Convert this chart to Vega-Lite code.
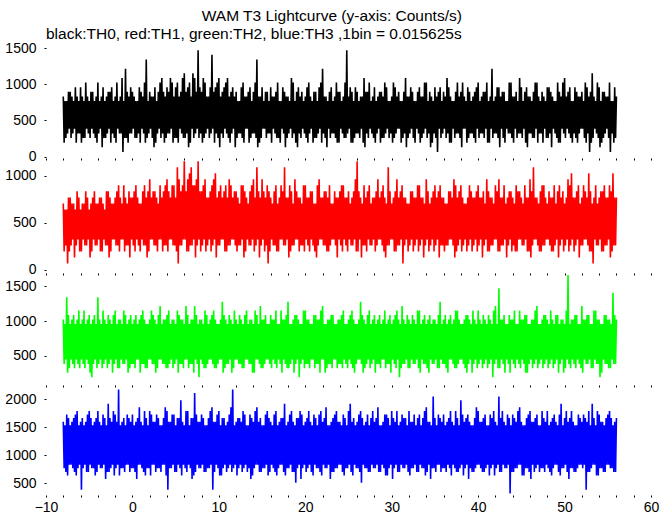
{
"$schema": "https://vega.github.io/schema/vega-lite/v6.json",
"background": "white",
"padding": {"left": 4, "top": 9, "right": 10, "bottom": 2},
"title": {"text": "WAM T3 Lightcurve (y-axis: Counts/s)", "anchor": "middle", "fontSize": 15.5, "font": "Liberation Sans", "fontWeight": "normal", "color": "black", "offset": 2.5},
"config": {
  "view": {"stroke": null},
  "axis": {"labelFont": "Liberation Sans", "labelFontSize": 14, "labelColor": "black", "domain": false, "grid": false, "tickColor": "black", "tickSize": 2, "title": null}
},
"spacing": 0,
"bounds": "flush",
"data": {"values": [
{"t":-8,"a":832,"b":704,"c":1024,"d":1600},{"t":-7.9,"a":192,"b":192,"c":384,"d":768},{"t":-7.8,"a":768,"b":640,"c":960,"d":1536},{"t":-7.7,"a":256,"b":256,"c":448,"d":704},
{"t":-7.6,"a":768,"b":640,"c":1344,"d":1728},{"t":-7.5,"a":320,"b":64,"c":256,"d":640},{"t":-7.4,"a":896,"b":768,"c":1088,"d":1664},{"t":-7.3,"a":384,"b":192,"c":320,"d":832},
{"t":-7.2,"a":896,"b":768,"c":960,"d":1536},{"t":-7.1,"a":256,"b":256,"c":448,"d":832},{"t":-7,"a":832,"b":704,"c":1024,"d":1600},{"t":-6.9,"a":320,"b":320,"c":384,"d":768},
{"t":-6.8,"a":768,"b":704,"c":1088,"d":1664},{"t":-6.7,"a":384,"b":128,"c":320,"d":704},{"t":-6.6,"a":960,"b":640,"c":960,"d":1728},{"t":-6.5,"a":192,"b":256,"c":448,"d":640},
{"t":-6.4,"a":832,"b":832,"c":1024,"d":1792},{"t":-6.3,"a":320,"b":320,"c":384,"d":768},{"t":-6.2,"a":768,"b":768,"c":1152,"d":1536},{"t":-6.1,"a":320,"b":192,"c":320,"d":832},
{"t":-6,"a":960,"b":640,"c":960,"d":1600},{"t":-5.9,"a":192,"b":192,"c":448,"d":384},{"t":-5.8,"a":832,"b":704,"c":1024,"d":1664},{"t":-5.7,"a":256,"b":320,"c":384,"d":768},
{"t":-5.6,"a":768,"b":704,"c":1152,"d":1536},{"t":-5.5,"a":256,"b":256,"c":320,"d":832},{"t":-5.4,"a":1024,"b":832,"c":960,"d":1600},{"t":-5.3,"a":384,"b":256,"c":448,"d":704},
{"t":-5.2,"a":832,"b":768,"c":1024,"d":1728},{"t":-5.1,"a":320,"b":320,"c":384,"d":704},{"t":-5,"a":768,"b":640,"c":1088,"d":1792},{"t":-4.9,"a":256,"b":128,"c":256,"d":832},
{"t":-4.8,"a":896,"b":704,"c":960,"d":1664},{"t":-4.7,"a":384,"b":192,"c":192,"d":768},{"t":-4.6,"a":896,"b":768,"c":1024,"d":1536},{"t":-4.5,"a":320,"b":320,"c":384,"d":768},
{"t":-4.4,"a":768,"b":832,"c":1088,"d":1600},{"t":-4.3,"a":256,"b":256,"c":448,"d":640},{"t":-4.2,"a":832,"b":704,"c":960,"d":1664},{"t":-4.1,"a":192,"b":256,"c":320,"d":704},
{"t":-4,"a":1024,"b":704,"c":1344,"d":1792},{"t":-3.9,"a":320,"b":320,"c":384,"d":832},{"t":-3.8,"a":768,"b":768,"c":1024,"d":1600},{"t":-3.7,"a":384,"b":192,"c":448,"d":768},
{"t":-3.6,"a":832,"b":768,"c":960,"d":1536},{"t":-3.5,"a":128,"b":192,"c":320,"d":768},{"t":-3.4,"a":960,"b":704,"c":1152,"d":1728},{"t":-3.3,"a":256,"b":320,"c":384,"d":832},
{"t":-3.2,"a":768,"b":640,"c":1024,"d":1664},{"t":-3.1,"a":256,"b":256,"c":448,"d":576},{"t":-3,"a":832,"b":832,"c":960,"d":1536},{"t":-2.9,"a":320,"b":256,"c":320,"d":704},
{"t":-2.8,"a":896,"b":832,"c":1088,"d":1920},{"t":-2.7,"a":384,"b":128,"c":384,"d":704},{"t":-2.6,"a":896,"b":768,"c":1024,"d":1664},{"t":-2.5,"a":192,"b":192,"c":448,"d":768},
{"t":-2.4,"a":960,"b":704,"c":960,"d":1600},{"t":-2.3,"a":320,"b":320,"c":256,"d":832},{"t":-2.2,"a":768,"b":704,"c":1088,"d":1792},{"t":-2.1,"a":256,"b":320,"c":384,"d":640},
{"t":-2,"a":832,"b":768,"c":1152,"d":1728},{"t":-1.9,"a":192,"b":256,"c":448,"d":768},{"t":-1.8,"a":1024,"b":832,"c":960,"d":1600},{"t":-1.7,"a":384,"b":256,"c":320,"d":832},
{"t":-1.6,"a":768,"b":896,"c":1024,"d":2176},{"t":-1.5,"a":320,"b":192,"c":320,"d":640},{"t":-1.4,"a":832,"b":768,"c":1024,"d":1536},{"t":-1.3,"a":320,"b":320,"c":448,"d":768},
{"t":-1.2,"a":1088,"b":704,"c":960,"d":1600},{"t":-1.1,"a":64,"b":320,"c":384,"d":768},{"t":-1,"a":768,"b":896,"c":1152,"d":1664},{"t":-0.9,"a":256,"b":192,"c":384,"d":704},
{"t":-0.8,"a":1216,"b":768,"c":1088,"d":1536},{"t":-0.7,"a":256,"b":256,"c":448,"d":832},{"t":-0.6,"a":896,"b":704,"c":960,"d":1728},{"t":-0.5,"a":192,"b":256,"c":256,"d":832},
{"t":-0.4,"a":832,"b":832,"c":1024,"d":1664},{"t":-0.3,"a":320,"b":128,"c":320,"d":704},{"t":-0.2,"a":960,"b":768,"c":1088,"d":1600},{"t":-0.1,"a":320,"b":320,"c":384,"d":768},
{"t":0,"a":896,"b":768,"c":960,"d":1728},{"t":0.1,"a":384,"b":256,"c":384,"d":768},{"t":0.2,"a":832,"b":832,"c":1024,"d":1536},{"t":0.3,"a":256,"b":192,"c":320,"d":704},
{"t":0.4,"a":768,"b":896,"c":1088,"d":1600},{"t":0.5,"a":256,"b":320,"c":448,"d":576},{"t":0.6,"a":768,"b":768,"c":960,"d":1664},{"t":0.7,"a":320,"b":256,"c":448,"d":832},
{"t":0.8,"a":960,"b":704,"c":1024,"d":1856},{"t":0.9,"a":192,"b":192,"c":256,"d":832},{"t":1,"a":896,"b":704,"c":1088,"d":1600},{"t":1.1,"a":384,"b":320,"c":384,"d":768},
{"t":1.2,"a":832,"b":832,"c":1152,"d":1536},{"t":1.3,"a":320,"b":256,"c":384,"d":704},{"t":1.4,"a":1024,"b":896,"c":1024,"d":1792},{"t":1.5,"a":192,"b":256,"c":320,"d":640},
{"t":1.6,"a":1344,"b":768,"c":960,"d":1664},{"t":1.7,"a":256,"b":128,"c":320,"d":768},{"t":1.8,"a":768,"b":832,"c":960,"d":1536},{"t":1.9,"a":320,"b":192,"c":448,"d":768},
{"t":2,"a":896,"b":960,"c":1024,"d":1792},{"t":2.1,"a":384,"b":320,"c":448,"d":640},{"t":2.2,"a":832,"b":768,"c":1152,"d":1728},{"t":2.3,"a":256,"b":320,"c":384,"d":832},
{"t":2.4,"a":832,"b":832,"c":1088,"d":1600},{"t":2.5,"a":128,"b":256,"c":384,"d":832},{"t":2.6,"a":960,"b":832,"c":1024,"d":1600},{"t":2.7,"a":192,"b":256,"c":256,"d":704},
{"t":2.8,"a":768,"b":768,"c":960,"d":1728},{"t":2.9,"a":320,"b":192,"c":320,"d":768},{"t":3,"a":896,"b":704,"c":1088,"d":1664},{"t":3.1,"a":384,"b":320,"c":448,"d":768},
{"t":3.2,"a":1024,"b":896,"c":1216,"d":1536},{"t":3.3,"a":256,"b":320,"c":448,"d":704},{"t":3.4,"a":1088,"b":768,"c":960,"d":1536},{"t":3.5,"a":320,"b":192,"c":384,"d":832},
{"t":3.6,"a":896,"b":832,"c":1024,"d":1664},{"t":3.7,"a":192,"b":256,"c":384,"d":832},{"t":3.8,"a":832,"b":896,"c":1024,"d":1856},{"t":3.9,"a":256,"b":256,"c":320,"d":640},
{"t":4,"a":960,"b":960,"c":1088,"d":1792},{"t":4.1,"a":320,"b":192,"c":320,"d":384},{"t":4.2,"a":896,"b":832,"c":1152,"d":1600},{"t":4.3,"a":320,"b":320,"c":384,"d":768},
{"t":4.4,"a":1088,"b":768,"c":960,"d":1600},{"t":4.5,"a":384,"b":320,"c":448,"d":768},{"t":4.6,"a":1024,"b":896,"c":1024,"d":1728},{"t":4.7,"a":192,"b":256,"c":320,"d":832},
{"t":4.8,"a":832,"b":896,"c":1024,"d":1728},{"t":4.9,"a":256,"b":256,"c":384,"d":704},{"t":5,"a":960,"b":768,"c":960,"d":1536},{"t":5.1,"a":256,"b":192,"c":448,"d":704},
{"t":5.2,"a":1024,"b":1088,"c":1152,"d":1664},{"t":5.3,"a":192,"b":64,"c":256,"d":832},{"t":5.4,"a":832,"b":960,"c":1088,"d":1664},{"t":5.5,"a":384,"b":256,"c":384,"d":768},
{"t":5.6,"a":896,"b":832,"c":1024,"d":1984},{"t":5.7,"a":320,"b":256,"c":384,"d":640},{"t":5.8,"a":1088,"b":896,"c":1024,"d":1600},{"t":5.9,"a":256,"b":320,"c":320,"d":832},
{"t":6,"a":1152,"b":1152,"c":960,"d":1536},{"t":6.1,"a":256,"b":320,"c":448,"d":768},{"t":6.2,"a":896,"b":832,"c":1216,"d":1792},{"t":6.3,"a":320,"b":192,"c":448,"d":704},
{"t":6.4,"a":960,"b":960,"c":1088,"d":1792},{"t":6.5,"a":128,"b":192,"c":320,"d":832},{"t":6.6,"a":1024,"b":1024,"c":960,"d":1536},{"t":6.7,"a":192,"b":256,"c":384,"d":768},
{"t":6.8,"a":832,"b":1088,"c":1024,"d":1664},{"t":6.9,"a":384,"b":256,"c":384,"d":576},{"t":7,"a":1152,"b":896,"c":1024,"d":1664},{"t":7.1,"a":256,"b":320,"c":256,"d":640},
{"t":7.2,"a":1088,"b":896,"c":1216,"d":2112},{"t":7.3,"a":320,"b":128,"c":448,"d":704},{"t":7.4,"a":896,"b":960,"c":1088,"d":1728},{"t":7.5,"a":384,"b":256,"c":384,"d":832},
{"t":7.6,"a":1472,"b":1152,"c":960,"d":1600},{"t":7.7,"a":256,"b":320,"c":192,"d":768},{"t":7.8,"a":960,"b":832,"c":1024,"d":1600},{"t":7.9,"a":320,"b":192,"c":448,"d":768},
{"t":8,"a":896,"b":832,"c":1024,"d":1728},{"t":8.1,"a":192,"b":256,"c":384,"d":832},{"t":8.2,"a":1088,"b":896,"c":960,"d":1664},{"t":8.3,"a":256,"b":320,"c":320,"d":704},
{"t":8.4,"a":1024,"b":960,"c":1152,"d":1536},{"t":8.5,"a":320,"b":192,"c":320,"d":704},{"t":8.6,"a":832,"b":768,"c":1088,"d":1536},{"t":8.7,"a":384,"b":256,"c":384,"d":768},
{"t":8.8,"a":832,"b":768,"c":960,"d":1664},{"t":8.9,"a":256,"b":320,"c":448,"d":768},{"t":9,"a":960,"b":832,"c":1024,"d":1792},{"t":9.1,"a":320,"b":192,"c":448,"d":832},
{"t":9.2,"a":1408,"b":896,"c":1088,"d":1856},{"t":9.3,"a":384,"b":256,"c":384,"d":384},{"t":9.4,"a":896,"b":960,"c":1152,"d":1600},{"t":9.5,"a":192,"b":320,"c":320,"d":704},
{"t":9.6,"a":960,"b":1024,"c":1024,"d":1600},{"t":9.7,"a":320,"b":128,"c":320,"d":832},{"t":9.8,"a":1024,"b":768,"c":960,"d":1728},{"t":9.9,"a":256,"b":256,"c":384,"d":768},
{"t":10,"a":1088,"b":832,"c":960,"d":1792},{"t":10.1,"a":128,"b":256,"c":448,"d":640},{"t":10.2,"a":832,"b":896,"c":1024,"d":1536},{"t":10.3,"a":320,"b":320,"c":448,"d":640},
{"t":10.4,"a":896,"b":768,"c":1280,"d":1664},{"t":10.5,"a":256,"b":320,"c":256,"d":768},{"t":10.6,"a":960,"b":832,"c":1088,"d":1664},{"t":10.7,"a":384,"b":192,"c":320,"d":832},
{"t":10.8,"a":1024,"b":896,"c":1024,"d":1536},{"t":10.9,"a":320,"b":192,"c":384,"d":704},{"t":11,"a":1088,"b":768,"c":960,"d":1600},{"t":11.1,"a":256,"b":256,"c":384,"d":768},
{"t":11.2,"a":832,"b":960,"c":1088,"d":1728},{"t":11.3,"a":192,"b":256,"c":448,"d":832},{"t":11.4,"a":896,"b":896,"c":1024,"d":1856},{"t":11.5,"a":320,"b":320,"c":256,"d":704},
{"t":11.6,"a":960,"b":768,"c":960,"d":2176},{"t":11.7,"a":384,"b":320,"c":320,"d":768},{"t":11.8,"a":832,"b":832,"c":1152,"d":1536},{"t":11.9,"a":128,"b":256,"c":448,"d":832},
{"t":12,"a":896,"b":832,"c":1024,"d":1600},{"t":12.1,"a":256,"b":192,"c":448,"d":640},{"t":12.2,"a":768,"b":768,"c":960,"d":1664},{"t":12.3,"a":320,"b":256,"c":384,"d":768},
{"t":12.4,"a":768,"b":704,"c":1088,"d":1664},{"t":12.5,"a":320,"b":256,"c":384,"d":832},{"t":12.6,"a":960,"b":896,"c":1024,"d":1600},{"t":12.7,"a":256,"b":320,"c":320,"d":704},
{"t":12.8,"a":1024,"b":896,"c":960,"d":1792},{"t":12.9,"a":192,"b":128,"c":320,"d":768},{"t":13,"a":832,"b":832,"c":1088,"d":1728},{"t":13.1,"a":384,"b":192,"c":448,"d":832},
{"t":13.2,"a":832,"b":768,"c":1152,"d":1536},{"t":13.3,"a":384,"b":320,"c":448,"d":704},{"t":13.4,"a":896,"b":704,"c":960,"d":1536},{"t":13.5,"a":192,"b":256,"c":384,"d":768},
{"t":13.6,"a":960,"b":832,"c":1024,"d":1728},{"t":13.7,"a":256,"b":256,"c":384,"d":576},{"t":13.8,"a":768,"b":896,"c":1024,"d":1664},{"t":13.9,"a":320,"b":320,"c":256,"d":640},
{"t":14,"a":896,"b":960,"c":960,"d":1600},{"t":14.1,"a":320,"b":192,"c":256,"d":768},{"t":14.2,"a":1024,"b":768,"c":1152,"d":1792},{"t":14.3,"a":256,"b":256,"c":448,"d":832},
{"t":14.4,"a":1344,"b":1088,"c":1088,"d":1856},{"t":14.5,"a":128,"b":320,"c":448,"d":832},{"t":14.6,"a":832,"b":832,"c":960,"d":1600},{"t":14.7,"a":192,"b":128,"c":384,"d":704},
{"t":14.8,"a":832,"b":768,"c":1216,"d":1664},{"t":14.9,"a":256,"b":256,"c":320,"d":704},{"t":15,"a":960,"b":960,"c":1024,"d":1536},{"t":15.1,"a":384,"b":320,"c":320,"d":768},
{"t":15.2,"a":768,"b":832,"c":1024,"d":1536},{"t":15.3,"a":384,"b":192,"c":384,"d":768},{"t":15.4,"a":896,"b":768,"c":1088,"d":1728},{"t":15.5,"a":256,"b":256,"c":448,"d":832},
{"t":15.6,"a":896,"b":896,"c":960,"d":1792},{"t":15.7,"a":320,"b":64,"c":448,"d":640},{"t":15.8,"a":768,"b":832,"c":960,"d":1664},{"t":15.9,"a":320,"b":192,"c":384,"d":704},
{"t":16,"a":960,"b":768,"c":1088,"d":1600},{"t":16.1,"a":192,"b":320,"c":320,"d":832},{"t":16.2,"a":832,"b":704,"c":1024,"d":1536},{"t":16.3,"a":384,"b":256,"c":448,"d":768},
{"t":16.4,"a":832,"b":832,"c":1024,"d":1728},{"t":16.5,"a":320,"b":256,"c":384,"d":704},{"t":16.6,"a":896,"b":896,"c":1152,"d":1792},{"t":16.7,"a":256,"b":192,"c":320,"d":640},
{"t":16.8,"a":1024,"b":704,"c":960,"d":1536},{"t":16.9,"a":256,"b":192,"c":448,"d":768},{"t":17,"a":768,"b":768,"c":960,"d":1600},{"t":17.1,"a":192,"b":320,"c":384,"d":832},
{"t":17.2,"a":768,"b":896,"c":1152,"d":1664},{"t":17.3,"a":384,"b":320,"c":256,"d":832},{"t":17.4,"a":960,"b":832,"c":1024,"d":1664},{"t":17.5,"a":320,"b":256,"c":448,"d":704},
{"t":17.6,"a":896,"b":1088,"c":1024,"d":1920},{"t":17.7,"a":128,"b":256,"c":384,"d":640},{"t":17.8,"a":832,"b":768,"c":1088,"d":1536},{"t":17.9,"a":256,"b":320,"c":320,"d":768},
{"t":18,"a":832,"b":768,"c":1280,"d":1600},{"t":18.1,"a":320,"b":128,"c":320,"d":768},{"t":18.2,"a":768,"b":896,"c":960,"d":1728},{"t":18.3,"a":384,"b":192,"c":384,"d":832},
{"t":18.4,"a":1088,"b":832,"c":960,"d":1792},{"t":18.5,"a":256,"b":256,"c":448,"d":704},{"t":18.6,"a":1024,"b":704,"c":1024,"d":1600},{"t":18.7,"a":320,"b":256,"c":256,"d":704},
{"t":18.8,"a":768,"b":960,"c":1088,"d":1536},{"t":18.9,"a":192,"b":320,"c":384,"d":512},{"t":19,"a":896,"b":832,"c":1088,"d":1664},{"t":19.1,"a":128,"b":320,"c":448,"d":768},
{"t":19.2,"a":960,"b":768,"c":1024,"d":1664},{"t":19.3,"a":320,"b":192,"c":192,"d":832},{"t":19.4,"a":832,"b":768,"c":960,"d":1792},{"t":19.5,"a":256,"b":256,"c":384,"d":576},
{"t":19.6,"a":896,"b":704,"c":960,"d":1728},{"t":19.7,"a":384,"b":256,"c":448,"d":768},{"t":19.8,"a":768,"b":896,"c":1152,"d":1536},{"t":19.9,"a":320,"b":192,"c":320,"d":832},
{"t":20,"a":832,"b":896,"c":1152,"d":1600},{"t":20.1,"a":256,"b":320,"c":384,"d":704},{"t":20.2,"a":960,"b":768,"c":1024,"d":1664},{"t":20.3,"a":192,"b":256,"c":384,"d":768},
{"t":20.4,"a":1024,"b":768,"c":1024,"d":1792},{"t":20.5,"a":320,"b":192,"c":320,"d":832},{"t":20.6,"a":832,"b":832,"c":960,"d":1600},{"t":20.7,"a":384,"b":320,"c":448,"d":704},
{"t":20.8,"a":768,"b":832,"c":960,"d":1536},{"t":20.9,"a":192,"b":256,"c":448,"d":640},{"t":21,"a":896,"b":704,"c":1088,"d":1728},{"t":21.1,"a":256,"b":192,"c":320,"d":832},
{"t":21.2,"a":896,"b":704,"c":1088,"d":1664},{"t":21.3,"a":256,"b":128,"c":384,"d":768},{"t":21.4,"a":768,"b":896,"c":1024,"d":1536},{"t":21.5,"a":320,"b":256,"c":384,"d":768},
{"t":21.6,"a":960,"b":960,"c":1024,"d":1728},{"t":21.7,"a":384,"b":320,"c":256,"d":704},{"t":21.8,"a":1024,"b":768,"c":1152,"d":1792},{"t":21.9,"a":192,"b":320,"c":448,"d":640},
{"t":22,"a":1216,"b":768,"c":1216,"d":1600},{"t":22.1,"a":320,"b":256,"c":448,"d":832},{"t":22.2,"a":832,"b":832,"c":960,"d":1664},{"t":22.3,"a":256,"b":256,"c":256,"d":768},
{"t":22.4,"a":832,"b":832,"c":960,"d":1856},{"t":22.5,"a":128,"b":192,"c":320,"d":768},{"t":22.6,"a":768,"b":768,"c":1024,"d":1536},{"t":22.7,"a":384,"b":192,"c":384,"d":832},
{"t":22.8,"a":896,"b":896,"c":1024,"d":1536},{"t":22.9,"a":256,"b":256,"c":384,"d":576},{"t":23,"a":960,"b":704,"c":1088,"d":1600},{"t":23.1,"a":320,"b":320,"c":320,"d":704},
{"t":23.2,"a":768,"b":704,"c":1088,"d":1664},{"t":23.3,"a":320,"b":320,"c":448,"d":704},{"t":23.4,"a":832,"b":832,"c":960,"d":1728},{"t":23.5,"a":256,"b":256,"c":448,"d":768},
{"t":23.6,"a":1024,"b":768,"c":960,"d":1792},{"t":23.7,"a":192,"b":128,"c":320,"d":768},{"t":23.8,"a":896,"b":768,"c":1024,"d":1600},{"t":23.9,"a":192,"b":320,"c":384,"d":832},
{"t":24,"a":896,"b":832,"c":1024,"d":1600},{"t":24.1,"a":384,"b":256,"c":384,"d":832},{"t":24.2,"a":768,"b":896,"c":1088,"d":1536},{"t":24.3,"a":320,"b":192,"c":320,"d":704},
{"t":24.4,"a":832,"b":896,"c":1152,"d":1728},{"t":24.5,"a":256,"b":320,"c":448,"d":640},{"t":24.6,"a":1024,"b":768,"c":960,"d":1664},{"t":24.7,"a":256,"b":256,"c":384,"d":768},
{"t":24.8,"a":1472,"b":768,"c":960,"d":1536},{"t":24.9,"a":320,"b":192,"c":320,"d":768},{"t":25,"a":832,"b":832,"c":1024,"d":1792},{"t":25.1,"a":384,"b":320,"c":448,"d":832},
{"t":25.2,"a":960,"b":704,"c":1088,"d":1920},{"t":25.3,"a":192,"b":256,"c":384,"d":704},{"t":25.4,"a":896,"b":768,"c":1152,"d":1600},{"t":25.5,"a":192,"b":256,"c":320,"d":640},
{"t":25.6,"a":768,"b":832,"c":1024,"d":1664},{"t":25.7,"a":256,"b":320,"c":256,"d":832},{"t":25.8,"a":960,"b":960,"c":960,"d":1536},{"t":25.9,"a":320,"b":192,"c":384,"d":768},
{"t":26,"a":896,"b":1152,"c":960,"d":1600},{"t":26.1,"a":320,"b":192,"c":448,"d":768},{"t":26.2,"a":768,"b":832,"c":1024,"d":1728},{"t":26.3,"a":256,"b":320,"c":448,"d":704},
{"t":26.4,"a":832,"b":768,"c":1280,"d":1792},{"t":26.5,"a":384,"b":128,"c":384,"d":512},{"t":26.6,"a":832,"b":704,"c":1088,"d":1664},{"t":26.7,"a":192,"b":256,"c":256,"d":832},
{"t":26.8,"a":1088,"b":896,"c":1024,"d":1536},{"t":26.9,"a":128,"b":256,"c":320,"d":768},{"t":27,"a":896,"b":768,"c":960,"d":1600},{"t":27.1,"a":320,"b":192,"c":384,"d":768},
{"t":27.2,"a":896,"b":832,"c":1088,"d":1728},{"t":27.3,"a":256,"b":320,"c":448,"d":704},{"t":27.4,"a":1024,"b":896,"c":1152,"d":1536},{"t":27.5,"a":384,"b":256,"c":320,"d":704},
{"t":27.6,"a":768,"b":704,"c":960,"d":1664},{"t":27.7,"a":320,"b":256,"c":384,"d":832},{"t":27.8,"a":832,"b":768,"c":1024,"d":1792},{"t":27.9,"a":256,"b":320,"c":448,"d":768},
{"t":28,"a":960,"b":768,"c":1088,"d":1600},{"t":28.1,"a":192,"b":192,"c":256,"d":768},{"t":28.2,"a":768,"b":832,"c":960,"d":1664},{"t":28.3,"a":320,"b":256,"c":384,"d":832},
{"t":28.4,"a":832,"b":960,"c":1024,"d":1856},{"t":28.5,"a":384,"b":320,"c":384,"d":704},{"t":28.6,"a":896,"b":768,"c":1088,"d":1536},{"t":28.7,"a":192,"b":320,"c":320,"d":704},
{"t":28.8,"a":896,"b":832,"c":960,"d":1536},{"t":28.9,"a":256,"b":256,"c":448,"d":832},{"t":29,"a":832,"b":896,"c":1024,"d":1600},{"t":29.1,"a":256,"b":192,"c":448,"d":768},
{"t":29.2,"a":1024,"b":768,"c":1152,"d":1728},{"t":29.3,"a":320,"b":128,"c":320,"d":640},{"t":29.4,"a":960,"b":704,"c":960,"d":1728},{"t":29.5,"a":384,"b":256,"c":384,"d":640},
{"t":29.6,"a":768,"b":1088,"c":1024,"d":1664},{"t":29.7,"a":256,"b":256,"c":384,"d":768},{"t":29.8,"a":768,"b":832,"c":1088,"d":1536},{"t":29.9,"a":320,"b":320,"c":256,"d":832},
{"t":30,"a":832,"b":704,"c":960,"d":1792},{"t":30.1,"a":192,"b":320,"c":448,"d":576},{"t":30.2,"a":1024,"b":768,"c":1024,"d":1664},{"t":30.3,"a":256,"b":192,"c":384,"d":768},
{"t":30.4,"a":960,"b":832,"c":1088,"d":1600},{"t":30.5,"a":320,"b":192,"c":320,"d":832},{"t":30.6,"a":832,"b":960,"c":1152,"d":1792},{"t":30.7,"a":384,"b":256,"c":448,"d":704},
{"t":30.8,"a":896,"b":768,"c":1024,"d":1536},{"t":30.9,"a":384,"b":256,"c":192,"d":704},{"t":31,"a":768,"b":832,"c":960,"d":1600},{"t":31.1,"a":192,"b":320,"c":320,"d":832},
{"t":31.2,"a":768,"b":896,"c":1216,"d":1728},{"t":31.3,"a":256,"b":64,"c":384,"d":768},{"t":31.4,"a":896,"b":768,"c":1024,"d":1664},{"t":31.5,"a":320,"b":256,"c":384,"d":768},
{"t":31.6,"a":1088,"b":768,"c":960,"d":1664},{"t":31.7,"a":128,"b":320,"c":448,"d":832},{"t":31.8,"a":832,"b":704,"c":1088,"d":1536},{"t":31.9,"a":256,"b":192,"c":320,"d":704},
{"t":32,"a":832,"b":704,"c":1024,"d":1792},{"t":32.1,"a":320,"b":256,"c":320,"d":640},{"t":32.2,"a":960,"b":832,"c":960,"d":1600},{"t":32.3,"a":384,"b":320,"c":448,"d":768},
{"t":32.4,"a":896,"b":832,"c":1088,"d":1600},{"t":32.5,"a":256,"b":192,"c":384,"d":768},{"t":32.6,"a":768,"b":768,"c":1024,"d":1728},{"t":32.7,"a":192,"b":256,"c":384,"d":832},
{"t":32.8,"a":768,"b":768,"c":960,"d":1536},{"t":32.9,"a":384,"b":320,"c":448,"d":704},{"t":33,"a":896,"b":896,"c":1152,"d":1664},{"t":33.1,"a":320,"b":192,"c":320,"d":704},
{"t":33.2,"a":960,"b":896,"c":1152,"d":1728},{"t":33.3,"a":192,"b":256,"c":256,"d":832},{"t":33.4,"a":832,"b":768,"c":960,"d":1536},{"t":33.5,"a":256,"b":320,"c":448,"d":768},
{"t":33.6,"a":832,"b":768,"c":1024,"d":1664},{"t":33.7,"a":320,"b":128,"c":384,"d":768},{"t":33.8,"a":1024,"b":704,"c":1088,"d":1792},{"t":33.9,"a":384,"b":256,"c":384,"d":640},
{"t":34,"a":1024,"b":960,"c":960,"d":1856},{"t":34.1,"a":256,"b":320,"c":320,"d":704},{"t":34.2,"a":768,"b":832,"c":1024,"d":1600},{"t":34.3,"a":320,"b":192,"c":256,"d":832},
{"t":34.4,"a":896,"b":704,"c":1088,"d":1600},{"t":34.5,"a":128,"b":256,"c":448,"d":576},{"t":34.6,"a":832,"b":768,"c":960,"d":1536},{"t":34.7,"a":192,"b":320,"c":384,"d":768},
{"t":34.8,"a":768,"b":832,"c":1024,"d":2048},{"t":34.9,"a":320,"b":192,"c":384,"d":768},{"t":35,"a":960,"b":896,"c":1024,"d":1664},{"t":35.1,"a":256,"b":256,"c":448,"d":704},
{"t":35.2,"a":832,"b":768,"c":960,"d":1536},{"t":35.3,"a":64,"b":320,"c":320,"d":832},{"t":35.4,"a":896,"b":832,"c":1088,"d":1728},{"t":35.5,"a":384,"b":128,"c":320,"d":832},
{"t":35.6,"a":960,"b":896,"c":1280,"d":1664},{"t":35.7,"a":256,"b":256,"c":448,"d":704},{"t":35.8,"a":768,"b":768,"c":960,"d":1600},{"t":35.9,"a":320,"b":256,"c":384,"d":768},
{"t":36,"a":896,"b":768,"c":1024,"d":1728},{"t":36.1,"a":384,"b":192,"c":384,"d":768},{"t":36.2,"a":832,"b":704,"c":1088,"d":1536},{"t":36.3,"a":256,"b":256,"c":320,"d":704},
{"t":36.4,"a":1088,"b":704,"c":960,"d":1600},{"t":36.5,"a":320,"b":256,"c":256,"d":832},{"t":36.6,"a":960,"b":832,"c":1024,"d":1664},{"t":36.7,"a":192,"b":320,"c":448,"d":768},
{"t":36.8,"a":832,"b":832,"c":1088,"d":1792},{"t":36.9,"a":192,"b":320,"c":448,"d":640},{"t":37,"a":768,"b":768,"c":960,"d":1600},{"t":37.1,"a":384,"b":256,"c":384,"d":832},
{"t":37.2,"a":768,"b":960,"c":1024,"d":1536},{"t":37.3,"a":256,"b":128,"c":320,"d":768},{"t":37.4,"a":896,"b":896,"c":1152,"d":1792},{"t":37.5,"a":320,"b":192,"c":320,"d":704},
{"t":37.6,"a":1024,"b":768,"c":1152,"d":1664},{"t":37.7,"a":320,"b":256,"c":384,"d":704},{"t":37.8,"a":832,"b":832,"c":1024,"d":1536},{"t":37.9,"a":256,"b":320,"c":448,"d":768},
{"t":38,"a":896,"b":896,"c":960,"d":1984},{"t":38.1,"a":128,"b":192,"c":448,"d":832},{"t":38.2,"a":1024,"b":768,"c":960,"d":1728},{"t":38.3,"a":384,"b":256,"c":384,"d":640},
{"t":38.4,"a":832,"b":704,"c":1024,"d":1600},{"t":38.5,"a":384,"b":320,"c":320,"d":768},{"t":38.6,"a":768,"b":704,"c":1088,"d":1664},{"t":38.7,"a":192,"b":192,"c":256,"d":832},
{"t":38.8,"a":960,"b":768,"c":1088,"d":1728},{"t":38.9,"a":256,"b":256,"c":384,"d":576},{"t":39,"a":896,"b":896,"c":1024,"d":1600},{"t":39.1,"a":320,"b":320,"c":448,"d":768},
{"t":39.2,"a":768,"b":832,"c":960,"d":1536},{"t":39.3,"a":320,"b":192,"c":256,"d":704},{"t":39.4,"a":832,"b":768,"c":1152,"d":1536},{"t":39.5,"a":256,"b":256,"c":384,"d":704},
{"t":39.6,"a":896,"b":768,"c":1024,"d":1664},{"t":39.7,"a":192,"b":320,"c":448,"d":768},{"t":39.8,"a":960,"b":832,"c":960,"d":1856},{"t":39.9,"a":384,"b":192,"c":320,"d":832},
{"t":40,"a":1024,"b":896,"c":1152,"d":1792},{"t":40.1,"a":256,"b":256,"c":384,"d":832},{"t":40.2,"a":768,"b":768,"c":1024,"d":1600},{"t":40.3,"a":320,"b":320,"c":448,"d":768},
{"t":40.4,"a":832,"b":768,"c":960,"d":1600},{"t":40.5,"a":320,"b":128,"c":320,"d":704},{"t":40.6,"a":896,"b":832,"c":1088,"d":1664},{"t":40.7,"a":256,"b":256,"c":384,"d":704},
{"t":40.8,"a":896,"b":704,"c":1024,"d":1728},{"t":40.9,"a":384,"b":320,"c":448,"d":768},{"t":41,"a":1024,"b":960,"c":960,"d":1536},{"t":41.1,"a":192,"b":192,"c":320,"d":832},
{"t":41.2,"a":768,"b":832,"c":1088,"d":1536},{"t":41.3,"a":192,"b":192,"c":384,"d":640},{"t":41.4,"a":832,"b":768,"c":1024,"d":1728},{"t":41.5,"a":384,"b":256,"c":448,"d":768},
{"t":41.6,"a":1216,"b":768,"c":960,"d":1664},{"t":41.7,"a":256,"b":256,"c":192,"d":832},{"t":41.8,"a":768,"b":704,"c":1152,"d":1792},{"t":41.9,"a":320,"b":320,"c":384,"d":640},
{"t":42,"a":832,"b":896,"c":1216,"d":1600},{"t":42.1,"a":320,"b":320,"c":448,"d":768},{"t":42.2,"a":960,"b":832,"c":960,"d":1536},{"t":42.3,"a":256,"b":192,"c":320,"d":832},
{"t":42.4,"a":960,"b":960,"c":1472,"d":2048},{"t":42.5,"a":128,"b":192,"c":320,"d":704},{"t":42.6,"a":832,"b":768,"c":1024,"d":1664},{"t":42.7,"a":384,"b":256,"c":448,"d":704},
{"t":42.8,"a":896,"b":768,"c":1024,"d":1792},{"t":42.9,"a":256,"b":256,"c":384,"d":832},{"t":43,"a":896,"b":896,"c":1088,"d":1600},{"t":43.1,"a":192,"b":320,"c":256,"d":768},
{"t":43.2,"a":768,"b":704,"c":960,"d":1536},{"t":43.3,"a":384,"b":128,"c":448,"d":768},{"t":43.4,"a":768,"b":768,"c":960,"d":1728},{"t":43.5,"a":320,"b":256,"c":384,"d":832},
{"t":43.6,"a":1024,"b":832,"c":1088,"d":1664},{"t":43.7,"a":320,"b":320,"c":256,"d":320},{"t":43.8,"a":1024,"b":832,"c":1024,"d":1536},{"t":43.9,"a":256,"b":192,"c":448,"d":704},
{"t":44,"a":832,"b":768,"c":1024,"d":1728},{"t":44.1,"a":192,"b":256,"c":384,"d":704},{"t":44.2,"a":832,"b":704,"c":1152,"d":1664},{"t":44.3,"a":384,"b":192,"c":320,"d":768},
{"t":44.4,"a":896,"b":896,"c":960,"d":1600},{"t":44.5,"a":256,"b":192,"c":448,"d":768},{"t":44.6,"a":768,"b":832,"c":960,"d":1792},{"t":44.7,"a":320,"b":320,"c":384,"d":832},
{"t":44.8,"a":1088,"b":832,"c":1152,"d":1856},{"t":44.9,"a":320,"b":320,"c":320,"d":832},{"t":45,"a":960,"b":768,"c":1024,"d":1600},{"t":45.1,"a":256,"b":256,"c":448,"d":640},
{"t":45.2,"a":768,"b":704,"c":1024,"d":1536},{"t":45.3,"a":384,"b":256,"c":384,"d":640},{"t":45.4,"a":896,"b":896,"c":1088,"d":1536},{"t":45.5,"a":192,"b":320,"c":256,"d":768},
{"t":45.6,"a":960,"b":768,"c":1088,"d":1664},{"t":45.7,"a":128,"b":192,"c":256,"d":768},{"t":45.8,"a":832,"b":768,"c":960,"d":1728},{"t":45.9,"a":320,"b":192,"c":384,"d":704},
{"t":46,"a":832,"b":960,"c":960,"d":1792},{"t":46.1,"a":320,"b":128,"c":448,"d":576},{"t":46.2,"a":768,"b":832,"c":1024,"d":1600},{"t":46.3,"a":256,"b":256,"c":320,"d":832},
{"t":46.4,"a":896,"b":1088,"c":1024,"d":1600},{"t":46.5,"a":256,"b":320,"c":384,"d":704},{"t":46.6,"a":1024,"b":768,"c":1152,"d":1664},{"t":46.7,"a":384,"b":320,"c":448,"d":768},
{"t":46.8,"a":1024,"b":768,"c":1216,"d":1728},{"t":46.9,"a":192,"b":256,"c":320,"d":832},{"t":47,"a":832,"b":704,"c":960,"d":1536},{"t":47.1,"a":320,"b":192,"c":384,"d":704},
{"t":47.2,"a":768,"b":832,"c":960,"d":1536},{"t":47.3,"a":320,"b":192,"c":448,"d":768},{"t":47.4,"a":896,"b":896,"c":1024,"d":1792},{"t":47.5,"a":192,"b":256,"c":320,"d":768},
{"t":47.6,"a":832,"b":896,"c":1088,"d":1664},{"t":47.7,"a":384,"b":256,"c":384,"d":704},{"t":47.8,"a":768,"b":768,"c":1088,"d":1600},{"t":47.9,"a":256,"b":320,"c":448,"d":832},
{"t":48,"a":960,"b":704,"c":1024,"d":1792},{"t":48.1,"a":256,"b":320,"c":320,"d":768},{"t":48.2,"a":960,"b":832,"c":960,"d":1536},{"t":48.3,"a":320,"b":256,"c":384,"d":704},
{"t":48.4,"a":896,"b":768,"c":1152,"d":1600},{"t":48.5,"a":128,"b":192,"c":448,"d":640},{"t":48.6,"a":832,"b":768,"c":1024,"d":1664},{"t":48.7,"a":384,"b":192,"c":320,"d":768},
{"t":48.8,"a":768,"b":896,"c":960,"d":1728},{"t":48.9,"a":320,"b":256,"c":384,"d":832},{"t":49,"a":768,"b":704,"c":1088,"d":1600},{"t":49.1,"a":256,"b":320,"c":448,"d":832},
{"t":49.2,"a":1024,"b":832,"c":1088,"d":1536},{"t":49.3,"a":192,"b":128,"c":256,"d":704},{"t":49.4,"a":896,"b":896,"c":960,"d":1728},{"t":49.5,"a":192,"b":256,"c":384,"d":640},
{"t":49.6,"a":832,"b":768,"c":1024,"d":1920},{"t":49.7,"a":384,"b":320,"c":448,"d":768},{"t":49.8,"a":1024,"b":832,"c":1024,"d":1536},{"t":49.9,"a":320,"b":192,"c":256,"d":768},
{"t":50,"a":1088,"b":704,"c":960,"d":1664},{"t":50.1,"a":256,"b":256,"c":320,"d":832},{"t":50.2,"a":832,"b":768,"c":1152,"d":1792},{"t":50.3,"a":384,"b":320,"c":448,"d":704},
{"t":50.4,"a":896,"b":960,"c":1664,"d":1600},{"t":50.5,"a":320,"b":192,"c":384,"d":576},{"t":50.6,"a":960,"b":896,"c":960,"d":1664},{"t":50.7,"a":256,"b":256,"c":320,"d":768},
{"t":50.8,"a":768,"b":1024,"c":1024,"d":1792},{"t":50.9,"a":192,"b":320,"c":448,"d":768},{"t":51,"a":768,"b":768,"c":1024,"d":1600},{"t":51.1,"a":320,"b":192,"c":384,"d":704},
{"t":51.2,"a":960,"b":768,"c":1088,"d":1536},{"t":51.3,"a":256,"b":256,"c":320,"d":704},{"t":51.4,"a":896,"b":832,"c":1088,"d":1536},{"t":51.5,"a":192,"b":320,"c":448,"d":768},
{"t":51.6,"a":832,"b":896,"c":960,"d":1728},{"t":51.7,"a":320,"b":128,"c":384,"d":832},{"t":51.8,"a":832,"b":704,"c":960,"d":1664},{"t":51.9,"a":384,"b":256,"c":320,"d":832},
{"t":52,"a":896,"b":768,"c":1216,"d":1600},{"t":52.1,"a":384,"b":256,"c":256,"d":768},{"t":52.2,"a":768,"b":896,"c":1024,"d":1728},{"t":52.3,"a":256,"b":320,"c":448,"d":832},
{"t":52.4,"a":1024,"b":832,"c":1024,"d":1664},{"t":52.5,"a":192,"b":320,"c":384,"d":384},{"t":52.6,"a":960,"b":768,"c":1088,"d":1600},{"t":52.7,"a":320,"b":256,"c":384,"d":704},
{"t":52.8,"a":832,"b":1024,"c":1088,"d":1792},{"t":52.9,"a":64,"b":192,"c":448,"d":704},{"t":53,"a":896,"b":832,"c":960,"d":1536},{"t":53.1,"a":192,"b":192,"c":320,"d":768},
{"t":53.2,"a":1152,"b":704,"c":960,"d":1920},{"t":53.3,"a":256,"b":64,"c":320,"d":832},{"t":53.4,"a":832,"b":768,"c":1152,"d":1664},{"t":53.5,"a":384,"b":320,"c":448,"d":832},
{"t":53.6,"a":768,"b":896,"c":1152,"d":1536},{"t":53.7,"a":320,"b":256,"c":384,"d":640},{"t":53.8,"a":1024,"b":704,"c":1024,"d":1792},{"t":53.9,"a":256,"b":256,"c":384,"d":640},
{"t":54,"a":960,"b":768,"c":1024,"d":1728},{"t":54.1,"a":128,"b":320,"c":192,"d":768},{"t":54.2,"a":768,"b":832,"c":960,"d":1600},{"t":54.3,"a":192,"b":192,"c":256,"d":768},
{"t":54.4,"a":896,"b":832,"c":960,"d":1600},{"t":54.5,"a":256,"b":192,"c":448,"d":704},{"t":54.6,"a":896,"b":896,"c":1088,"d":1536},{"t":54.7,"a":320,"b":256,"c":384,"d":704},
{"t":54.8,"a":832,"b":768,"c":1088,"d":1664},{"t":54.9,"a":384,"b":256,"c":384,"d":832},{"t":55,"a":832,"b":768,"c":1024,"d":1728},{"t":55.1,"a":256,"b":320,"c":320,"d":832},
{"t":55.2,"a":1024,"b":896,"c":1024,"d":1792},{"t":55.3,"a":64,"b":128,"c":320,"d":768},{"t":55.4,"a":768,"b":832,"c":960,"d":1664},{"t":55.5,"a":320,"b":192,"c":448,"d":768},
{"t":55.6,"a":768,"b":1024,"c":1408,"d":1536},{"t":55.7,"a":192,"b":256,"c":384,"d":704},{"t":55.8,"a":960,"b":768,"c":1088,"d":1600},{"t":55.9,"a":256,"b":256,"c":384,"d":704},
{"t":56,"a":832,"b":768,"c":1024,"d":1664}
]},
"vconcat": [
{
  "width": 605, "height": 110,
  "title": {"text": "black:TH0, red:TH1, green:TH2, blue:TH3 ,1bin = 0.015625s", "anchor": "start", "frame": "group", "fontSize": 15.5, "font": "Liberation Sans", "fontWeight": "normal", "color": "black", "offset": -1.5},
  "mark": {"type": "line", "color": "#000000", "strokeWidth": 1.6, "clip": true},
  "encoding": {
    "x": {"field": "t", "type": "quantitative", "scale": {"domain": [-10, 60], "nice": false, "zero": false}, "axis": {"values": [-10,-8,-6,-4,-2,0,2,4,6,8,10,12,14,16,18,20,22,24,26,28,30,32,34,36,38,40,42,44,46,48,50,52,54,56,58,60], "labels": false}},
    "y": {"field": "a", "type": "quantitative", "scale": {"domain": [-20, 1503], "nice": false, "zero": false}, "axis": {"values": [0, 500, 1000, 1500], "format": "d", "labelPadding": 8}}
  }
},
{
  "width": 605, "height": 115,
  "mark": {"type": "line", "color": "#ff0000", "strokeWidth": 1.6, "clip": true},
  "encoding": {
    "x": {"field": "t", "type": "quantitative", "scale": {"domain": [-10, 60], "nice": false, "zero": false}, "axis": {"values": [-10,-8,-6,-4,-2,0,2,4,6,8,10,12,14,16,18,20,22,24,26,28,30,32,34,36,38,40,42,44,46,48,50,52,54,56,58,60], "labels": false}},
    "y": {"field": "b", "type": "quantitative", "scale": {"domain": [-36, 1187], "nice": false, "zero": false}, "axis": {"values": [0, 500, 1000], "format": "d", "labelPadding": 8}}
  }
},
{
  "width": 605, "height": 112,
  "mark": {"type": "line", "color": "#00ff00", "strokeWidth": 1.6, "clip": true},
  "encoding": {
    "x": {"field": "t", "type": "quantitative", "scale": {"domain": [-10, 60], "nice": false, "zero": false}, "axis": {"values": [-10,-8,-6,-4,-2,0,2,4,6,8,10,12,14,16,18,20,22,24,26,28,30,32,34,36,38,40,42,44,46,48,50,52,54,56,58,60], "labels": false}},
    "y": {"field": "c", "type": "quantitative", "scale": {"domain": [80, 1693], "nice": false, "zero": false}, "axis": {"values": [500, 1000, 1500], "format": "d", "labelPadding": 8}}
  }
},
{
  "width": 605, "height": 110,
  "mark": {"type": "line", "color": "#0000ff", "strokeWidth": 1.6, "clip": true},
  "encoding": {
    "x": {"field": "t", "type": "quantitative", "scale": {"domain": [-10, 60], "nice": false, "zero": false}, "axis": {"values": [-10,-8,-6,-4,-2,0,2,4,6,8,10,12,14,16,18,20,22,24,26,28,30,32,34,36,38,40,42,44,46,48,50,52,54,56,58,60], "labelExpr": "datum.value % 10 === 0 ? datum.label : ''", "labelFlush": false, "labelOverlap": false, "labelPadding": 3}},
    "y": {"field": "d", "type": "quantitative", "scale": {"domain": [291, 2255], "nice": false, "zero": false}, "axis": {"values": [500, 1000, 1500, 2000], "format": "d", "labelPadding": 8}}
  }
}
]
}
